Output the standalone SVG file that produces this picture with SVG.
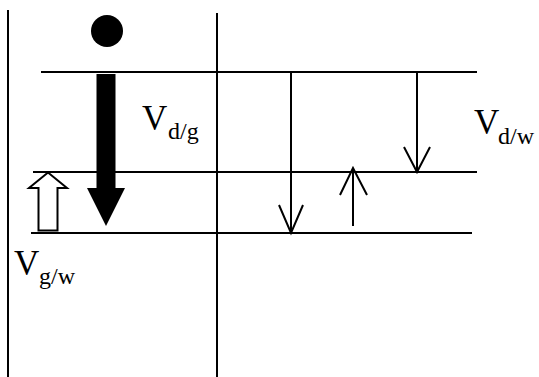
<svg xmlns="http://www.w3.org/2000/svg" width="539" height="377" viewBox="0 0 539 377">
<style>
.ln{stroke:#000;stroke-width:2;fill:none}
.big{font-family:"Liberation Serif","Times New Roman",serif;font-size:35px;fill:#000}
.sub{font-family:"Liberation Serif","Times New Roman",serif;font-size:24px;fill:#000}
</style>
<rect width="539" height="377" fill="#fff"/>
<g id="frame">
<line class="ln" x1="8" y1="10" x2="8" y2="377"/>
<line class="ln" x1="217" y1="13" x2="217" y2="377"/>
</g>
<g id="levels">
<line class="ln" x1="41" y1="72" x2="477" y2="72"/>
<line class="ln" x1="33" y1="172" x2="477" y2="172"/>
<line class="ln" x1="31" y1="233" x2="472" y2="233"/>
</g>
<g id="particle">
<circle cx="107" cy="31" r="16" fill="#000"/>
</g>
<g id="connectors">
<polygon points="96.5,74 115.5,74 115.5,188 125,188 106,226 87,188 96.5,188" fill="#000"/>
<polygon points="38.5,230.5 57.5,230.5 57.5,188 67,188 48,172.5 29,188 38.5,188" fill="#fff" stroke="#000" stroke-width="2"/>
<path class="ln" d="M291,72 V233 M279,205 L291,233 L303,205"/>
<path class="ln" d="M417,72 V172 M404,147 L417,172 L430,147"/>
<path class="ln" d="M353,226 V168 M340,195 L353,168 L367,195"/>
</g>
<g id="label-dg">
<text class="big" x="142" y="130">V</text><text class="sub" x="168" y="139">d/g</text>
</g>
<g id="label-gw">
<text class="big" x="14" y="275">V</text><text class="sub" x="39" y="284">g/w</text>
</g>
<g id="label-dw">
<text class="big" x="474" y="134">V</text><text class="sub" x="498" y="144">d/w</text>
</g>
</svg>
